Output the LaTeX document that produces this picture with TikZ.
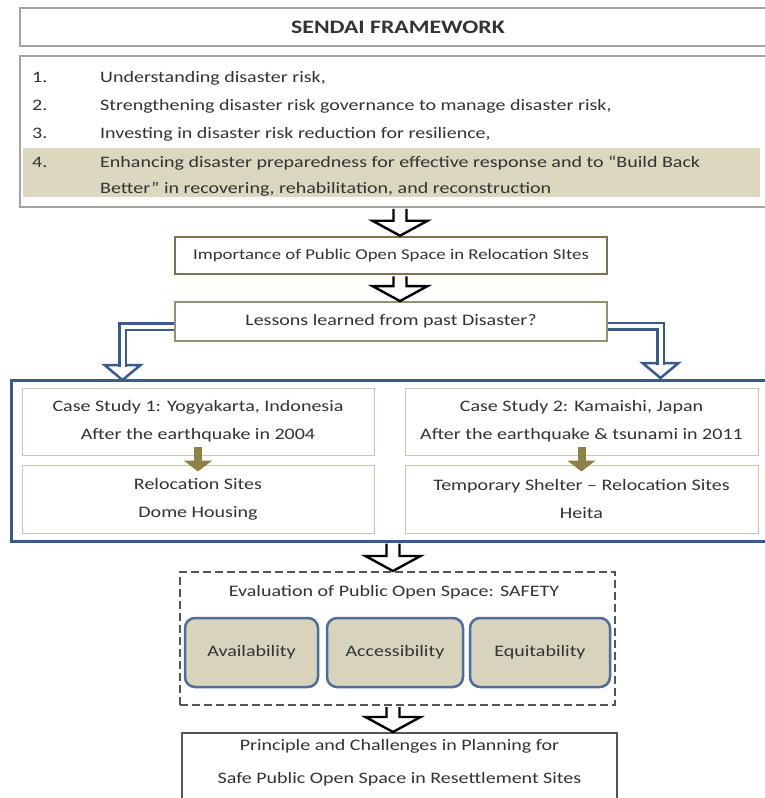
\documentclass[tikz,border=0pt]{standalone}
\usepackage{fontspec}
\setmainfont[FakeStretch=1.25]{Carlito}
\usetikzlibrary{arrows.meta,calc}
\definecolor{ink}{HTML}{333333}
\definecolor{frame}{HTML}{A4A49C}
\definecolor{sand}{HTML}{DCD8C0}
\definecolor{olive}{HTML}{8C8246}
\definecolor{oliveline}{HTML}{7A7450}
\definecolor{paleline}{HTML}{CBC7AE}
\definecolor{navy}{HTML}{3B5A8C}
\definecolor{steel}{HTML}{4F6D99}
\definecolor{chip}{HTML}{D7D3BD}
\definecolor{slate}{HTML}{555555}
\tikzset{
  box/.style={draw, inner sep=0pt, text=ink, font=\fontsize{16}{28}\selectfont, align=center},
  item/.style={anchor=base west, inner sep=0pt, text=ink, font=\fontsize{16}{28}\selectfont},
  hollow/.style={draw=black, line width=2.4pt, fill=white, line join=miter},
  dbl/.style={draw=navy, line width=2.5pt, double=white, double distance=4pt},
  bluehead/.style={draw=navy, line width=2.5pt, fill=white},
  chipbox/.style={box, draw=steel, line width=2.5pt, fill=chip, rounded corners=10pt, minimum width=#1, minimum height=69pt},
}
\newcommand{\hollowdown}[3]{%
  \draw[hollow] let \p1=(#3 |- #1.south), \p2=(#3 |- #2.north) in
    (\x1-6.5pt,\y1-1pt) -- (\x1-6.5pt,\y2+15pt) -- (\x1-27.5pt,\y2+15pt) -- (\x1,\y2)
    -- (\x1+27.5pt,\y2+15pt) -- (\x1+6.5pt,\y2+15pt) -- (\x1+6.5pt,\y1-1pt);}
\begin{document}
\begin{tikzpicture}[x=1pt,y=-1pt]
  \useasboundingbox[fill=white] (0,0) rectangle (765,798);
  \coordinate (upperaxis) at (400,0);
  \coordinate (loweraxis) at (393,0);
  \node[box, draw=frame, line width=1.5pt, minimum width=756pt, minimum height=38pt, font=\fontsize{19}{22}\selectfont\bfseries] (sendai) at (398,27) {SENDAI FRAMEWORK};
  \node[box, draw=frame, line width=1.5pt, minimum width=756pt, minimum height=151pt] (goals) at (398,131.5) {};
  \fill[sand] (23,148) rectangle (760,197);
  \node[item] (n1) at (32,82) {1.};
  \node[item] (t1) at (100,82) {Understanding disaster risk,};
  \node[item] (n2) at (32,110) {2.};
  \node[item] (t2) at (100,110) {Strengthening disaster risk governance to manage disaster risk,};
  \node[item] (n3) at (32,138) {3.};
  \node[item] (t3) at (100,138) {Investing in disaster risk reduction for resilience,};
  \node[item] (n4) at (32,167) {4.};
  \node[item] (t4) at (100,167) {Enhancing disaster preparedness for effective response and to ``Build Back};
  \node[item] (t4b) at (100,193) {Better'' in recovering, rehabilitation, and reconstruction};

  \node[box, draw=oliveline, line width=2.5pt, minimum width=432pt, minimum height=37pt, font=\fontsize{15}{18}\selectfont] (importance) at (391,255.5) {Importance of Public Open Space in Relocation SItes};
  \node[box, draw=oliveline!80, line width=1.8pt, minimum width=432pt, minimum height=39pt] (lessons) at (391,321.5) {Lessons learned from past Disaster?};
  \hollowdown{goals}{importance}{upperaxis}
  \hollowdown{importance}{lessons}{upperaxis}

  \node[draw=navy, line width=3pt, minimum width=766pt, minimum height=161pt, inner sep=0pt] (cases) at (394,460.5) {};
  \node[box, draw=paleline, line width=1pt, minimum width=352pt, minimum height=67pt] (yogya) at (198,421.5) {Case Study 1: Yogyakarta, Indonesia\\After the earthquake in 2004};
  \node[box, draw=paleline, line width=1pt, minimum width=353pt, minimum height=67pt] (kamaishi) at (581.5,421.5) {Case Study 2: Kamaishi, Japan\\After the earthquake \& tsunami in 2011};
  \node[box, draw=paleline, line width=1pt, minimum width=352pt, minimum height=68pt] (dome) at (198,499) {Relocation Sites\\Dome Housing};
  \node[box, draw=paleline, line width=1pt, minimum width=353pt, minimum height=68pt] (heita) at (581.5,499) {Temporary Shelter -- Relocation Sites\\Heita};
  \draw[olive, line width=8pt, -{Triangle[width=28pt,length=11pt]}] ([yshift=9pt]yogya.south) -- ([yshift=-7pt]dome.north);
  \draw[olive, line width=8pt, -{Triangle[width=28pt,length=11pt]}] ([yshift=9pt]kamaishi.south) -- ([yshift=-7pt]heita.north);

  \coordinate (lefttip) at (122.5,380);
  \coordinate (righttip) at (660.5,378);
  \draw[bluehead] ([shift={(-18,-15)}]lefttip) -- (lefttip) -- ([shift={(18,-15)}]lefttip) -- cycle;
  \draw[bluehead] ([shift={(-18,-15)}]righttip) -- (righttip) -- ([shift={(18,-15)}]righttip) -- cycle;
  \draw[dbl] ([yshift=-5pt]lessons.west) -| ([yshift=13pt]lefttip);
  \draw[dbl] ([yshift=-4.5pt]lessons.east) -| ([yshift=13pt]righttip);

  \node[draw=slate, line width=2pt, dash pattern=on 8pt off 4pt, minimum width=435pt, minimum height=133pt, inner sep=0pt] (safety) at (397.5,638.5) {};
  \node[text=ink, font=\fontsize{16}{28}\selectfont] (safetytitle) at (394,592) {Evaluation of Public Open Space: SAFETY};
  \node[chipbox=133pt] (avail) at (251.5,652.5) {Availability};
  \node[chipbox=136pt] (access) at (395,652.5) {Accessibility};
  \node[chipbox=140pt] (equit) at (540,652.5) {Equitability};
  \hollowdown{cases}{safety}{loweraxis}

  \node[box, draw=slate, line width=2pt, minimum width=435pt, minimum height=100pt, font=\fontsize{16}{33}\selectfont] (final) at (399.5,783) {Principle and Challenges in Planning for\\Safe Public Open Space in Resettlement Sites\\\strut};
  \hollowdown{safety}{final}{loweraxis}
\end{tikzpicture}
\end{document}
